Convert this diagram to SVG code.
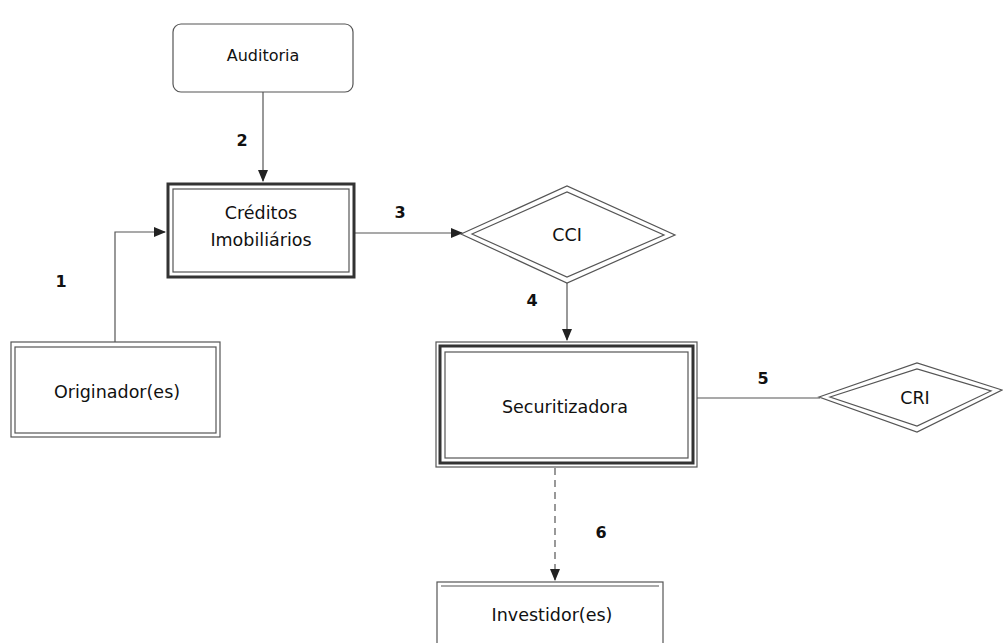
<svg xmlns="http://www.w3.org/2000/svg" width="1003" height="643" viewBox="0 0 1003 643">
<style>
.lbl{font-family:"DejaVu Sans",Verdana,sans-serif;font-size:17.5px;fill:#111;text-anchor:middle}
.num{font-family:"DejaVu Sans",Verdana,sans-serif;font-size:16px;font-weight:bold;fill:#111;text-anchor:middle}
.thin{fill:none;stroke:#555;stroke-width:1.2}
.thick{fill:none;stroke:#333;stroke-width:3}
.conn{fill:none;stroke:#555;stroke-width:1.2}
.dash{fill:none;stroke:#555;stroke-width:1.2;stroke-dasharray:7 5}
</style>
<defs>
<marker id="ah" markerWidth="12" markerHeight="10" refX="11" refY="5" orient="auto" markerUnits="userSpaceOnUse">
<path d="M0,0 L12,5 L0,10 Z" fill="#222"/>
</marker>
</defs>
<rect width="1003" height="643" fill="#fff"/>
<g id="connectors">
<path class="conn" d="M263,92 L263,181" marker-end="url(#ah)"/>
<path class="conn" d="M115,342 L115,232 L165,232" marker-end="url(#ah)"/>
<path class="conn" d="M355,233 L462,233" marker-end="url(#ah)"/>
<path class="conn" d="M567,283 L567,340" marker-end="url(#ah)"/>
<path class="conn" d="M697,398 L820,398"/>
<path class="dash" d="M555,468 L555,580" marker-end="url(#ah)"/>
</g>
<g id="labels">
<text class="num" x="242" y="146">2</text>
<text class="num" x="61" y="287">1</text>
<text class="num" x="400" y="218">3</text>
<text class="num" x="532" y="306">4</text>
<text class="num" x="763" y="384">5</text>
<text class="num" x="601" y="538">6</text>
</g>
<g id="auditoria">
<rect class="thin" x="173" y="24" width="180" height="68" rx="8" ry="8"/>
<text class="lbl" x="263" y="61" style="font-size:16px">Auditoria</text>
</g>
<g id="creditos">
<rect class="thick" x="168" y="184" width="186" height="93"/>
<rect class="thin" x="173" y="189" width="176" height="83"/>
<text class="lbl" x="261" y="219">Créditos</text>
<text class="lbl" x="261" y="246">Imobiliários</text>
</g>
<g id="originador">
<rect class="thin" x="11" y="342" width="209" height="95"/>
<rect class="thin" x="15" y="347" width="201" height="86"/>
<text class="lbl" x="117" y="398">Originador(es)</text>
</g>
<g id="cci">
<polygon class="thin" points="461,234 567,186 675,235 567,283"/>
<polygon class="thin" points="472,234 567,192 664,235 567,277"/>
<text class="lbl" x="567" y="241">CCI</text>
</g>
<g id="securitizadora">
<rect class="thin" x="436" y="342" width="261" height="125"/>
<rect class="thick" x="440" y="346" width="253" height="117"/>
<rect class="thin" x="445" y="352" width="243" height="106"/>
<text class="lbl" x="565" y="413">Securitizadora</text>
</g>
<g id="cri">
<polygon class="thin" points="819,397 917,363 1002,390 917,432"/>
<polygon class="thin" points="830,397 917,369 991,391 917,426"/>
<text class="lbl" x="915" y="404">CRI</text>
</g>
<g id="investidor">
<rect class="thin" x="437" y="582" width="226" height="80"/>
<line class="thin" x1="441" y1="586" x2="659" y2="586"/>
<text class="lbl" x="552" y="621">Investidor(es)</text>
</g>
</svg>
